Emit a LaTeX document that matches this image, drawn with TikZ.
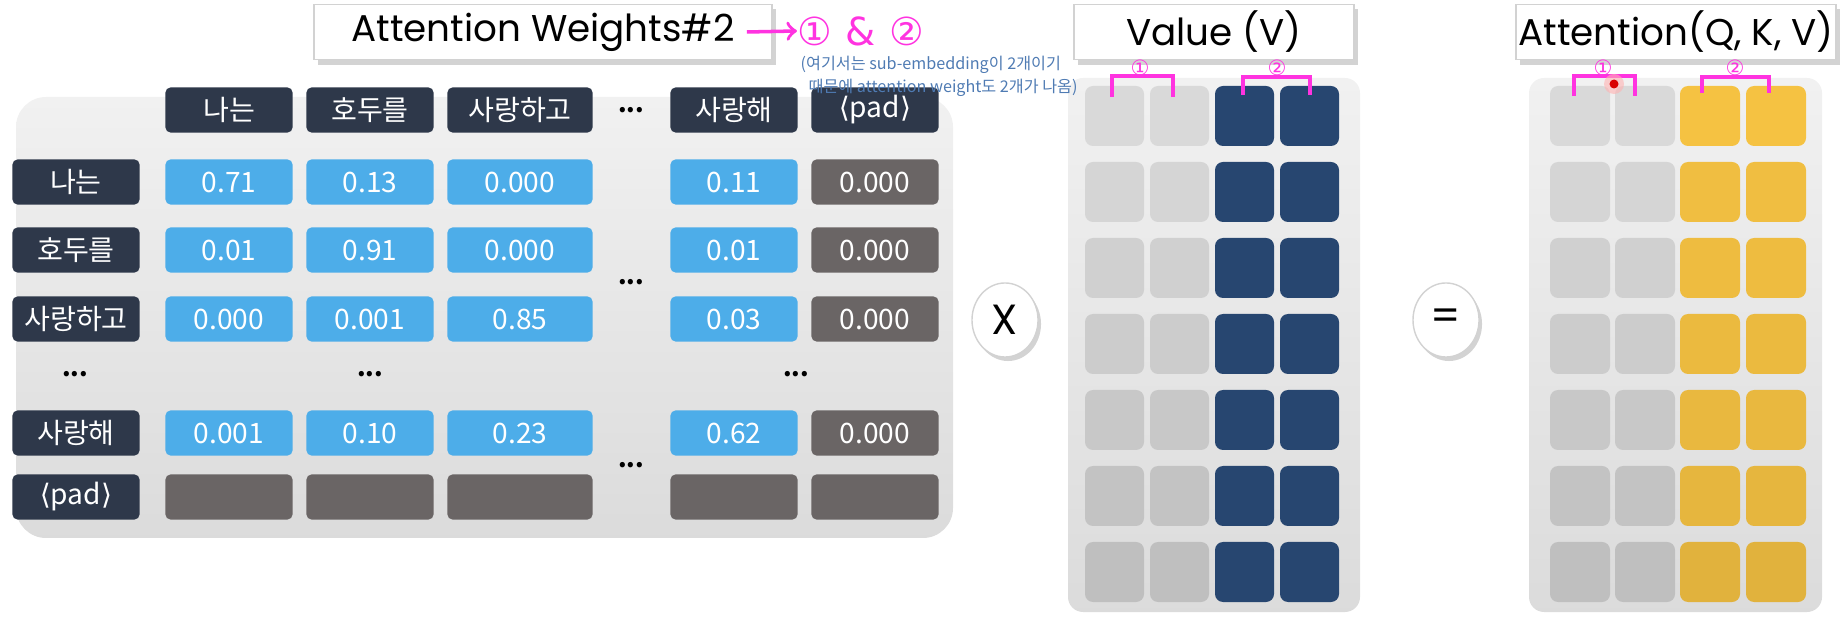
\documentclass[tikz,border=0pt]{standalone}
\usepackage{fontspec}
\setmainfont{Noto Sans CJK KR}
\newfontfamily\titlefont{Poppins}
\newfontfamily\symfont{DejaVu Sans}
\usetikzlibrary{positioning}
\usetikzlibrary{shadows, shapes.geometric}

\definecolor{tokdark}{HTML}{2E384A}
\definecolor{wblue}{HTML}{4DADE9}
\definecolor{wpad}{HTML}{6A6565}
\definecolor{panelgray}{HTML}{F1F1F1}
\definecolor{cellgray}{HTML}{D9D9D9}
\definecolor{vnavy}{HTML}{274670}
\definecolor{agold}{HTML}{F5C242}
\definecolor{penpink}{HTML}{FF33E0}
\definecolor{penblue}{HTML}{4F7BB3}

\newcommand{\padtok}{{\symfont\char"27E8}pad{\symfont\char"27E9}}

\tikzset{
  cellbase/.style={rectangle, rounded corners=0.05cm, inner sep=0pt, text=white,
    minimum width=1.27cm, minimum height=0.45cm, font=\fontsize{8}{9}\selectfont},
  tok/.style={cellbase, fill=tokdark},
  wcell/.style={cellbase, fill=wblue},
  pcell/.style={cellbase, fill=wpad},
  widecol/.style={minimum width=1.45cm},
  tdots/.style={font=\fontsize{7}{8}\selectfont\bfseries, inner sep=0pt},
  panel/.style={top color=panelgray, bottom color=panelgray!91!black},
  gcell/.style={rounded corners=0.08cm},
  titlebox/.style={rectangle, draw=gray!35, fill=white, minimum height=0.55cm, inner sep=0pt,
    drop shadow={shadow xshift=0.04cm, shadow yshift=-0.05cm, opacity=0.35},
    font=\titlefont\fontsize{10.6}{12}\selectfont},
  opcircle/.style={ellipse, draw=gray!35, fill=white, minimum width=0.66cm, minimum height=0.74cm,
    inner sep=0pt, drop shadow={shadow xshift=0.03cm, shadow yshift=-0.04cm, opacity=0.35},
    font=\titlefont\fontsize{12}{14}\selectfont},
  pen/.style={draw=penpink, line width=1pt},
  pentext/.style={text=penpink, inner sep=0pt, font=\symfont\fontsize{11}{12}\selectfont},
  pensmall/.style={text=penpink, inner sep=0pt, font=\symfont\fontsize{6}{6}\selectfont},
  notetext/.style={text=penblue, inner sep=0pt, anchor=west, font=\fontsize{4.6}{5.5}\selectfont}
}

\begin{document}
\begin{tikzpicture}[x=0.01cm,y=-0.01cm]
\useasboundingbox (0,0) rectangle (1846,628);

\shade[panel,rounded corners=0.3cm] (16,97) rectangle (953,538);
\shade[panel,rounded corners=0.15cm] (1068,78) rectangle (1360,612);
\shade[panel,rounded corners=0.15cm] (1529,78) rectangle (1822,612);

\node[titlebox, minimum width=4.58cm] (awtitle) at (543,32) {Attention Weights\#2};
\node[titlebox, minimum width=2.80cm] (vtitle) at (1214,32) {Value (V)};
\node[titlebox, minimum width=3.20cm] (attitle) at (1676,32) {Attention(Q, K, V)};

\node[tok] (h1) at (229,110) {나는};
\node[tok] (h2) at (370,110) {호두를};
\node[tok,widecol] (h3) at (520,110) {사랑하고};
\node[tdots] (hdots) at (631,110) {...};
\node[tok] (h4) at (734,110) {사랑해};
\node[tok] (h5) at (875,110) {\padtok};

\node[tok] (r1) at (76,182) {나는};
\node[wcell] (c11) at (229,182) {0.71};
\node[wcell] (c12) at (370,182) {0.13};
\node[wcell,widecol] (c13) at (520,182) {0.000};
\node[wcell] (c14) at (734,182) {0.11};
\node[pcell] (c15) at (875,182) {0.000};

\node[tok] (r2) at (76,250) {호두를};
\node[wcell] (c21) at (229,250) {0.01};
\node[wcell] (c22) at (370,250) {0.91};
\node[wcell,widecol] (c23) at (520,250) {0.000};
\node[wcell] (c24) at (734,250) {0.01};
\node[pcell] (c25) at (875,250) {0.000};
\node[tdots] (mdots1) at (631,282) {...};

\node[tok] (r3) at (76,319) {사랑하고};
\node[wcell] (c31) at (229,319) {0.000};
\node[wcell] (c32) at (370,319) {0.001};
\node[wcell,widecol] (c33) at (520,319) {0.85};
\node[wcell] (c34) at (734,319) {0.03};
\node[pcell] (c35) at (875,319) {0.000};

\node[tdots] (rdots) at (75,374) {...};
\node[tdots] (cdots1) at (370,374) {...};
\node[tdots] (cdots2) at (796,374) {...};

\node[tok] (r5) at (76,433) {사랑해};
\node[wcell] (c51) at (229,433) {0.001};
\node[wcell] (c52) at (370,433) {0.10};
\node[wcell,widecol] (c53) at (520,433) {0.23};
\node[wcell] (c54) at (734,433) {0.62};
\node[pcell] (c55) at (875,433) {0.000};
\node[tdots] (mdots2) at (631,465) {...};

\node[tok] (r6) at (76,497) {\padtok};
\node[pcell] (c61) at (229,497) {};
\node[pcell] (c62) at (370,497) {};
\node[pcell,widecol] (c63) at (520,497) {};
\node[pcell] (c64) at (734,497) {};
\node[pcell] (c65) at (875,497) {};

\node[opcircle] (times) at (1005,320) {X};
\node[opcircle] (equals) at (1446,320) {=};

\fill[gcell,cellgray] (1085,86) rectangle ++(59,60) (1150,86) rectangle ++(59,60);
\fill[gcell,vnavy] (1215,86) rectangle ++(59,60) (1280,86) rectangle ++(59,60);
\fill[gcell,cellgray!98!black] (1085,162) rectangle ++(59,60) (1150,162) rectangle ++(59,60);
\fill[gcell,vnavy] (1215,162) rectangle ++(59,60) (1280,162) rectangle ++(59,60);
\fill[gcell,cellgray!96!black] (1085,238) rectangle ++(59,60) (1150,238) rectangle ++(59,60);
\fill[gcell,vnavy] (1215,238) rectangle ++(59,60) (1280,238) rectangle ++(59,60);
\fill[gcell,cellgray!94!black] (1085,314) rectangle ++(59,60) (1150,314) rectangle ++(59,60);
\fill[gcell,vnavy] (1215,314) rectangle ++(59,60) (1280,314) rectangle ++(59,60);
\fill[gcell,cellgray!92!black] (1085,390) rectangle ++(59,60) (1150,390) rectangle ++(59,60);
\fill[gcell,vnavy] (1215,390) rectangle ++(59,60) (1280,390) rectangle ++(59,60);
\fill[gcell,cellgray!90!black] (1085,466) rectangle ++(59,60) (1150,466) rectangle ++(59,60);
\fill[gcell,vnavy] (1215,466) rectangle ++(59,60) (1280,466) rectangle ++(59,60);
\fill[gcell,cellgray!88!black] (1085,542) rectangle ++(59,60) (1150,542) rectangle ++(59,60);
\fill[gcell,vnavy] (1215,542) rectangle ++(59,60) (1280,542) rectangle ++(59,60);

\fill[gcell,cellgray] (1550,86) rectangle ++(60,60) (1615,86) rectangle ++(60,60);
\fill[gcell,agold] (1680,86) rectangle ++(60,60) (1746,86) rectangle ++(60,60);
\fill[gcell,cellgray!98!black] (1550,162) rectangle ++(60,60) (1615,162) rectangle ++(60,60);
\fill[gcell,agold!98!black] (1680,162) rectangle ++(60,60) (1746,162) rectangle ++(60,60);
\fill[gcell,cellgray!96!black] (1550,238) rectangle ++(60,60) (1615,238) rectangle ++(60,60);
\fill[gcell,agold!97!black] (1680,238) rectangle ++(60,60) (1746,238) rectangle ++(60,60);
\fill[gcell,cellgray!94!black] (1550,314) rectangle ++(60,60) (1615,314) rectangle ++(60,60);
\fill[gcell,agold!96!black] (1680,314) rectangle ++(60,60) (1746,314) rectangle ++(60,60);
\fill[gcell,cellgray!92!black] (1550,390) rectangle ++(60,60) (1615,390) rectangle ++(60,60);
\fill[gcell,agold!95!black] (1680,390) rectangle ++(60,60) (1746,390) rectangle ++(60,60);
\fill[gcell,cellgray!90!black] (1550,466) rectangle ++(60,60) (1615,466) rectangle ++(60,60);
\fill[gcell,agold!94!black] (1680,466) rectangle ++(60,60) (1746,466) rectangle ++(60,60);
\fill[gcell,cellgray!88!black] (1550,542) rectangle ++(60,60) (1615,542) rectangle ++(60,60);
\fill[gcell,agold!92!black] (1680,542) rectangle ++(60,60) (1746,542) rectangle ++(60,60);

\node[pentext] (one) at (815,31) {①};
\node[pentext, right=0.12cm of one] (amp) {\&};
\node[pentext, right=0.12cm of amp] (two) {②};
\draw[pen,->] ([xshift=-0.26cm]awtitle.east) -- (one.west);
\node[notetext] (note1) at (800,65) {(여기서는 sub-embedding이 2개이기};
\node[notetext] (note2) at (808,88) {때문에 attention weight도 2개가 나옴)};

\draw[pen] (1112,97) -- (1112,76) -- (1173,76) -- (1173,97);
\draw[pen] (1243,95) -- (1243,77) -- (1310,77) -- (1310,95);
\node[pensmall] (vone) at (1140,68) {①};
\node[pensmall] (vtwo) at (1277,68) {②};

\draw[pen] (1574,96) -- (1574,76) -- (1635,76) -- (1635,96);
\draw[pen] (1702,93) -- (1702,77) -- (1769,77) -- (1769,93);
\node[pensmall] (aone) at (1603,68) {①};
\node[pensmall] (atwo) at (1735,68) {②};

\fill[red!30, opacity=0.6] (1614,84) circle (0.1cm);
\fill[red!85!black] (1614,84) circle (0.045cm);

\end{tikzpicture}
\end{document}
